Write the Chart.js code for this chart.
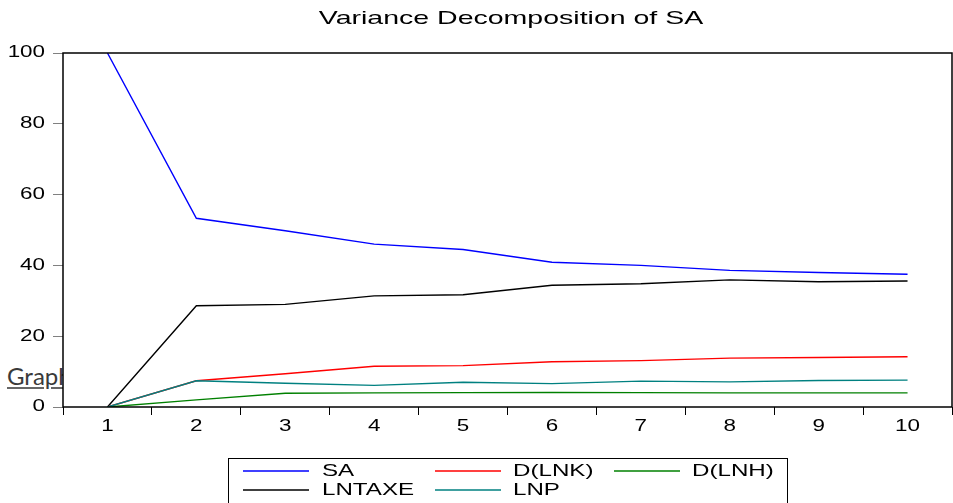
<!DOCTYPE html>
<html><head><meta charset="utf-8">
<script src="https://cdn.jsdelivr.net/npm/chart.js@4.4.1/dist/chart.umd.min.js"></script>
<style>
html,body{margin:0;padding:0;background:#fff;}
#wrap{position:relative;width:953px;height:503px;overflow:hidden;background:#fff;}
#graph{position:absolute;left:7px;top:364px;width:56px;height:30px;overflow:hidden;font-family:Lato,'Open Sans',sans-serif;font-size:24px;line-height:24px;color:#3a3a3a;white-space:nowrap;text-decoration:underline;text-decoration-color:#666;}
canvas{position:absolute;left:0;top:0;}
</style></head>
<body><div id="wrap"><div id="graph">Graph</div><canvas id="c" width="953" height="503"></canvas></div>
<script>
const titleText = 'Variance Decomposition of SA';
const categories = ['1','2','3','4','5','6','7','8','9','10'];
const yTicks = [0, 20, 40, 60, 80, 100];
const saValues     = [100, 53.3, 49.8, 46.0, 44.5, 40.9, 40.0, 38.6, 38.0, 37.5];
const dlnkValues   = [0, 7.4, 9.4, 11.5, 11.7, 12.8, 13.1, 13.8, 14.0, 14.2];
const dlnhValues   = [0, 2.0, 3.9, 4.0, 4.05, 4.1, 4.05, 4.0, 4.0, 4.0];
const lntaxeValues = [0, 28.6, 29.0, 31.4, 31.7, 34.4, 34.8, 35.9, 35.4, 35.6];
const lnpValues    = [0, 7.4, 6.7, 6.1, 7.0, 6.6, 7.3, 7.1, 7.5, 7.6];
const seriesNames  = ['SA', 'D(LNK)', 'D(LNH)', 'LNTAXE', 'LNP'];
const seriesColors = ['#0000ff', '#ff0000', '#008000', '#000000', '#008080'];
const seriesData   = [saValues, dlnkValues, dlnhValues, lntaxeValues, lnpValues];
const drawOrder    = [0, 2, 1, 3, -1];

function stretchText(ctx, txt, x, y, sx, align, baseline) {
  ctx.save();
  ctx.translate(x, y);
  ctx.scale(sx, 1);
  ctx.textAlign = align;
  ctx.textBaseline = baseline;
  ctx.fillText(txt, 0, 0);
  ctx.restore();
}

const decorPlugin = {
  id: 'decor',
  beforeDraw(chart) {
    const {ctx, chartArea: a} = chart;
    ctx.save();
    ctx.fillStyle = '#fff';
    ctx.fillRect(a.left, a.top, a.right - a.left, a.bottom - a.top);
    ctx.restore();
  },
  afterDraw(chart) {
    const {ctx, chartArea: a} = chart;
    ctx.save();
    // frame
    ctx.strokeStyle = '#000';
    ctx.lineWidth = 1.5;
    ctx.strokeRect(a.left, a.top, a.right - a.left, a.bottom - a.top);
    // title
    ctx.fillStyle = '#000';
    ctx.font = '19px "Liberation Sans", Arial, sans-serif';
    stretchText(ctx, titleText, 511, 24, 1.5, 'center', 'alphabetic');
    // y tick labels
    const ys = chart.scales.y;
    ctx.font = '16px "Liberation Sans", Arial, sans-serif';
    ys.ticks.forEach((t, i) => {
      const py = ys.getPixelForValue(t.value);
      stretchText(ctx, String(t.label), 45, py, 1.4, 'right', 'middle');
    });
    // x tick labels
    const xs = chart.scales.x;
    xs.ticks.forEach((t, i) => {
      const px = xs.getPixelForTick(i);
      stretchText(ctx, xs.getLabelForValue(t.value), px, 431, 1.4, 'center', 'alphabetic');
    });
    // legend
    ctx.strokeStyle = '#000';
    ctx.lineWidth = 1;
    ctx.strokeRect(228.5, 458.5, 559, 60);
    const colLine = [243, 435, 614];
    const colText = [322, 513, 692];
    const rowLine = [471, 490];
    const rowText = [476, 495];
    ctx.font = '17px "Liberation Sans", Arial, sans-serif';
    chart.data.datasets.forEach((ds, i) => {
      const r = Math.floor(i / 3), c = i % 3;
      ctx.strokeStyle = ds.borderColor;
      ctx.lineWidth = 1.4;
      ctx.beginPath();
      ctx.moveTo(colLine[c], rowLine[r]);
      ctx.lineTo(colLine[c] + 66, rowLine[r]);
      ctx.stroke();
      ctx.fillStyle = '#000';
      stretchText(ctx, ds.label, colText[c], rowText[r], 1.42, 'left', 'alphabetic');
    });
    ctx.restore();
  }
};

new Chart(document.getElementById('c'), {
  type: 'line',
  data: {
    labels: categories,
    datasets: seriesNames.map((n, i) => ({
      label: n,
      data: seriesData[i],
      borderColor: seriesColors[i],
      backgroundColor: seriesColors[i],
      borderWidth: 1.4,
      pointRadius: 0,
      tension: 0,
      fill: false,
      order: drawOrder[i]
    }))
  },
  options: {
    responsive: false,
    animation: false,
    layout: { padding: { top: 53, right: 1, left: 0, bottom: 0 } },
    plugins: { legend: { display: false }, title: { display: false }, tooltip: { enabled: false } },
    scales: {
      x: {
        type: 'category',
        offset: true,
        grid: { offset: true, drawOnChartArea: false, drawTicks: true, tickLength: 8, color: '#000', lineWidth: 1 },
        border: { display: false },
        ticks: { display: false, autoSkip: false },
        afterFit(s) { s.height = 96; }
      },
      y: {
        min: 0, max: 100,
        afterBuildTicks(s) { s.ticks = yTicks.map(v => ({ value: v })); },
        grid: { drawOnChartArea: false, drawTicks: true, tickLength: 10, color: '#808080', lineWidth: 1 },
        border: { display: false },
        ticks: { display: false },
        afterFit(s) { s.width = 63; }
      }
    }
  },
  plugins: [decorPlugin]
});
</script>
</body></html>
